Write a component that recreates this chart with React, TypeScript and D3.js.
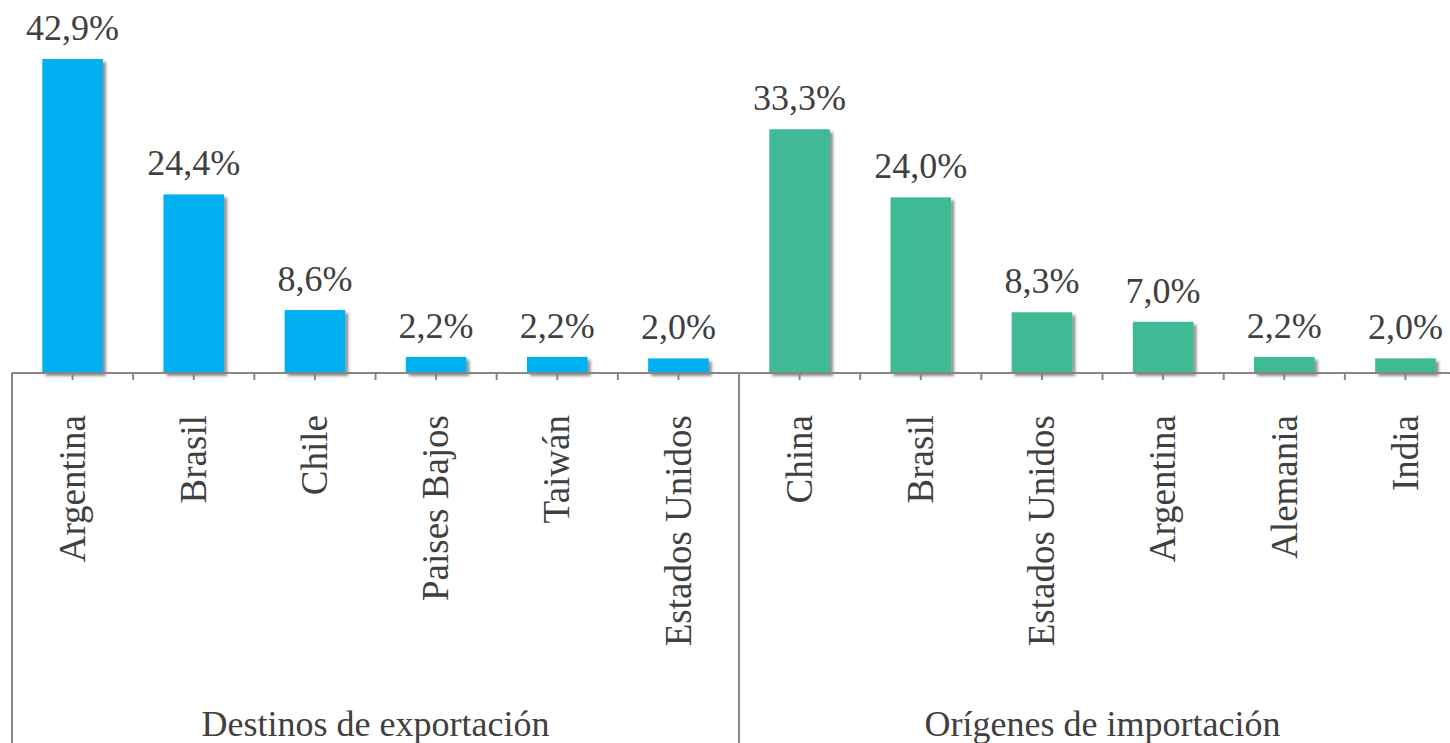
import * as d3 from "d3";

const exportCountries = ["Argentina", "Brasil", "Chile", "Paises Bajos", "Taiwán", "Estados Unidos"];
const exportShares = [42.9, 24.4, 8.6, 2.2, 2.2, 2.0];
const importCountries = ["China", "Brasil", "Estados Unidos", "Argentina", "Alemania", "India"];
const importShares = [33.3, 24.0, 8.3, 7.0, 2.2, 2.0];
const groupLabels = ["Destinos de exportación", "Orígenes de importación"];
const groupColors = ["#00B0F0", "#41B995"];

const width = 1450;
const height = 743;
const axisY = 373;
const left = 12;
const step = 121.17;
const font = "Liberation Serif";
const textColor = "#404040";
const lineColor = "#868686";

function App() {
  const rows = [
    ...exportCountries.map((c, i) => ({ name: c, value: exportShares[i], group: 0 })),
    ...importCountries.map((c, i) => ({ name: c, value: importShares[i], group: 1 })),
  ];
  const n = rows.length;
  const keys = rows.map((_, i) => String(i));

  const x = d3
    .scaleBand()
    .domain(keys)
    .range([left, left + step * n])
    .paddingInner(0.5)
    .paddingOuter(0.25);
  const y = d3.scaleLinear().domain([0, 42.9]).range([axisY, 59]);
  const cx = (i: number) => (x(String(i)) as number) + x.bandwidth() / 2;

  // ticks at category edges and centres
  const tickXs: number[] = [];
  for (let i = 0; i <= n; i++) {
    tickXs.push(left + i * step);
    if (i < n) tickXs.push(cx(i));
  }
  const seps = [0, exportCountries.length, n];

  return (
    <svg width={width} height={height} style={{ position: "absolute", left: 0, top: 0 }}>
      <defs>
        <filter id="shadow" x="-20%" y="-20%" width="150%" height="150%">
          <feDropShadow dx={3} dy={3} stdDeviation={1.5} floodColor="#000" floodOpacity={0.45} />
        </filter>
      </defs>

      {/* bars */}
      <g>
        {rows.map((d, i) => (
          <rect
            key={i}
            x={x(String(i))}
            y={y(d.value)}
            width={x.bandwidth()}
            height={axisY - y(d.value)}
            fill={groupColors[d.group]}
            filter="url(#shadow)"
          />
        ))}
      </g>

      {/* value labels */}
      {rows.map((d, i) => (
        <text
          key={"v" + i}
          x={cx(i)}
          y={y(d.value) - 19}
          fontFamily={font}
          fontSize={36}
          fill={textColor}
          textAnchor="middle"
        >
          {d.value.toFixed(1).replace(".", ",") + "%"}
        </text>
      ))}

      {/* axis, ticks, separators */}
      <g stroke={lineColor} strokeWidth={2}>
        <line x1={left} x2={width} y1={axisY} y2={axisY} />
        {tickXs.map((t, i) => (
          <line key={"t" + i} x1={t} x2={t} y1={axisY} y2={axisY + 7} />
        ))}
        {seps.map((s) => (
          <line key={"s" + s} x1={left + s * step} x2={left + s * step} y1={axisY} y2={height} />
        ))}
      </g>

      {/* category labels */}
      {rows.map((d, i) => (
        <text
          key={"c" + i}
          transform={`translate(${cx(i)},415) rotate(-90)`}
          dy="0.33em"
          fontFamily={font}
          fontSize={37}
          fill={textColor}
          textAnchor="end"
        >
          {d.name}
        </text>
      ))}

      {/* group labels */}
      {groupLabels.map((g, i) => (
        <text
          key={g}
          x={left + (i * 6 + 3) * step}
          y={736}
          fontFamily={font}
          fontSize={36}
          fill={textColor}
          textAnchor="middle"
        >
          {g}
        </text>
      ))}
    </svg>
  );
}

export default App;
